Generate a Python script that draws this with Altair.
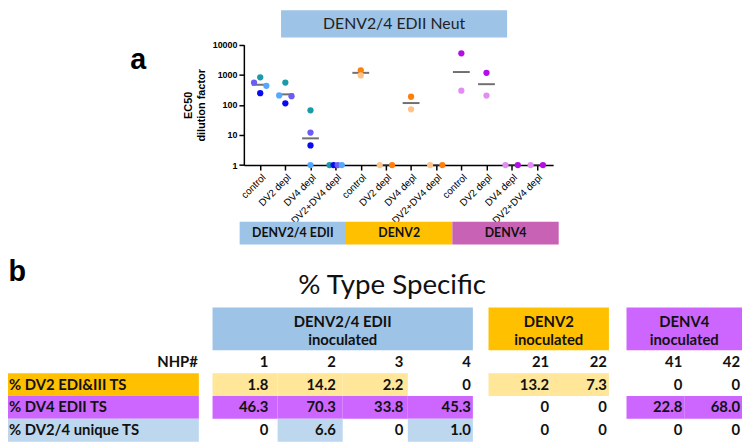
import altair as alt
import pandas as pd
import numpy as np

# ---------------- data: panel a (EC50 dilution factor) ----------------
treatments = ["control", "DV2 depl", "DV4 depl", "DV2+DV4 depl"]
groups = ["DENV2/4 EDII", "DENV2", "DENV4"]
group_nhps = [["1", "2", "3", "4"], ["21", "22"], ["41", "42"]]

ec50_nhp1 = [820, 550, 66, 1]
ec50_nhp2 = [244, 113, 4.5, 1]
ec50_nhp3 = [550, 195, 12, 1]
ec50_nhp4 = [430, 205, 1, 1]
ec50_nhp21 = [950, 1, 71, 1]
ec50_nhp22 = [1410, 1, 186, 1]
ec50_nhp41 = [296, 204, 1, 1]
ec50_nhp42 = [5130, 1160, 1, 1]

nhp_ids = ["1", "2", "3", "4", "21", "22", "41", "42"]
nhp_colors = ["#1A9BAA", "#0A0AF0", "#6B5CF5", "#55A8FF",
              "#FFC38A", "#FF7F0A", "#E48CF5", "#B40DE6"]
group_colors = ["#9DC3E6", "#FFC000", "#C862B5"]

# ---------------- data: panel b (% type specific) ----------------
row_labels = ["% DV2 EDI&III TS", "% DV4 EDII TS", "% DV2/4 unique TS"]
dv2_ts = ["1.8", "14.2", "2.2", "0", "13.2", "7.3", "0", "0"]
dv4_ts = ["46.3", "70.3", "33.8", "45.3", "0", "0", "22.8", "68.0"]
unique_ts = ["0", "6.6", "0", "1.0", "0", "0", "0", "0"]
dv2_hl = [1, 1, 1, 0, 1, 1, 0, 0]
dv4_hl = [1, 1, 1, 1, 0, 0, 1, 1]
unique_hl = [0, 1, 0, 1, 0, 0, 0, 0]
table_headers = ["DENV2/4 EDII\ninoculated", "DENV2\ninoculated", "DENV4\ninoculated"]
table_head_colors = ["#9DC3E6", "#FFC000", "#CC66FF"]
label_bg = ["#FFC000", "#CC66FF", "#BDD7EE"]
cell_bg = ["#FFE699", "#CC66FF", "#BDD7EE"]

# ---------------- layout helpers ----------------
W, H = 742, 436
SX, SY = W / 750, H / 444


def px(v):
    return v * SX


def py(v):
    return v * SY


def bx(domain, a, b):
    return alt.Scale(type="band", domain=domain, range=[px(a), px(b)],
                     paddingInner=0, paddingOuter=0)


def by(domain, a, b):
    return alt.Scale(type="band", domain=domain, range=[py(a), py(b)],
                     paddingInner=0, paddingOuter=0)


def band_rect(chart, xfield, xscale, yfield, yscale, **mark_kw):
    """rect that fills its x band and y band exactly"""
    return chart.mark_rect(**mark_kw).encode(
        x=alt.X(xfield, scale=xscale, axis=None, bandPosition=0),
        x2=alt.X2(xfield.split(":")[0], bandPosition=1),
        y=alt.Y(yfield, scale=yscale, axis=None, bandPosition=0),
        y2=alt.Y2(yfield.split(":")[0], bandPosition=1),
    )


LATO = "Lato"
ARIAL = "Liberation Sans"
TFS = 15

layers = []


def text_box(text, x0, x1, y0, y1, fill=None, **kw):
    d = pd.DataFrame({"t": [text]})
    out = []
    if fill:
        out.append(band_rect(alt.Chart(d), "t:N", bx([text], x0, x1),
                             "t:N", by([text], y0, y1), color=fill))
    out.append(alt.Chart(d).mark_text(**kw).encode(
        x=alt.X("t:N", scale=bx([text], x0, x1), axis=None),
        y=alt.Y("t:N", scale=by([text], y0, y1), axis=None),
        text="t:N"))
    return out


# ---------------- panel a ----------------
layers += text_box("DENV2/4 EDII Neut", 279, 510, 0, 28, fill="#9DC3E6",
                   font=LATO, fontSize=16, color="#222")
layers += text_box("a", 120, 146, 36, 66, font=ARIAL, fontSize=29,
                   fontWeight="bold", color="#000")

ec50_by_nhp = dict(zip(nhp_ids, [ec50_nhp1, ec50_nhp2, ec50_nhp3, ec50_nhp4,
                                 ec50_nhp21, ec50_nhp22, ec50_nhp41, ec50_nhp42]))
cats = [f"{g}|{t}" for g in groups for t in treatments]

# beeswarm-like spreading of overlapping points (computed from values)
ystep = (py(159.3) - py(35.3)) / 4
recs = []
for gi, g in enumerate(groups):
    for ti, t in enumerate(treatments):
        pts = [(n, ec50_by_nhp[n][ti]) for n in group_nhps[gi]]
        order = sorted(range(len(pts)), key=lambda i: (-pts[i][1], i))
        rows = []
        for i in order:
            lv = np.log10(pts[i][1])
            if rows and abs(rows[-1][0] - lv) * ystep < 4.5:
                rows[-1][1].append(i)
            else:
                rows.append([lv, [i]])
        for _, members in rows:
            k = len(members)
            offs = np.linspace(-6.3, 6.3, k) if k > 1 else [0.0]
            for i, o in zip(members, offs):
                recs.append(dict(cat=f"{g}|{t}", nhp=pts[i][0],
                                 ec50=pts[i][1], off=float(o) * SX))
pts_df = pd.DataFrame(recs)

xscale = alt.Scale(type="point", domain=cats, range=[px(241), px(557)], padding=0.65)
yscale = alt.Scale(type="log", domain=[1, 10000], range=[py(159.3), py(35.3)], nice=False)

geo = alt.Chart(pts_df).transform_calculate(
    lg="log(datum.ec50)/LN10"
).transform_aggregate(
    mlg="mean(lg)", groupby=["cat"]
).transform_calculate(
    gm="pow(10, datum.mlg)"
).mark_tick(color="#333333", thickness=2, size=17).encode(
    x=alt.X("cat:N", scale=xscale, axis=None),
    y=alt.Y("gm:Q", scale=yscale, axis=None),
)

points = alt.Chart(pts_df).mark_circle(size=40, opacity=1).encode(
    x=alt.X("cat:N", scale=xscale, axis=alt.Axis(
        orient="bottom", offset=-(H - py(159.3)), labelAngle=-45,
        labelFont=ARIAL, labelFontSize=10, labelColor="#000",
        labelExpr="split(datum.label, '|')[1]", labelOverlap=False,
        labelPadding=2, tickSize=5, tickColor="#000", tickWidth=1.5,
        domainColor="#000", domainWidth=1.5, title=None, grid=False)),
    xOffset=alt.XOffset("off:Q", scale=alt.Scale(domain=[-20, 20], range=[-20, 20])),
    y=alt.Y("ec50:Q", scale=yscale, axis=alt.Axis(
        orient="left", offset=-px(241), values=[1, 10, 100, 1000, 10000], format="d",
        labelFont=ARIAL, labelFontSize=9, labelFontWeight="bold", labelColor="#000",
        tickSize=5, tickColor="#000", tickWidth=1.5, domainColor="#000",
        domainWidth=1.5, grid=False, title=["EC50", "dilution factor"],
        titleFont=ARIAL, titleFontSize=11, titleFontWeight="bold",
        titleColor="#000", titlePadding=6)),
    color=alt.Color("nhp:N", scale=alt.Scale(domain=nhp_ids, range=nhp_colors), legend=None),
)
layers += [geo, points]

box_df = pd.DataFrame({"group": groups, "r": ["box"] * 3})
box_xs = bx(groups, 236.7, 562.7)
box_ys = by(["box"], 217.7, 241)
layers += [
    band_rect(alt.Chart(box_df), "group:N", box_xs, "r:N", box_ys).encode(
        color=alt.Color("group:N", scale=alt.Scale(domain=groups, range=group_colors),
                        legend=None)),
    alt.Chart(box_df).mark_text(font=LATO, fontSize=12.5, fontWeight="bold",
                                color="#111").encode(
        x=alt.X("group:N", scale=box_xs, axis=None),
        y=alt.Y("r:N", scale=box_ys, axis=None),
        text="group:N"),
]

# ---------------- panel b ----------------
layers += text_box("b", 0, 19, 256, 282, font=ARIAL, fontSize=29,
                   fontWeight="bold", color="#000")
layers += text_box("% Type Specific", 290, 495, 268, 300, font=LATO,
                   fontSize=28, color="#111")

rows_all = ["NHP#"] + row_labels
yrows = by(rows_all, 350, 444)

lab_df = pd.DataFrame({"row": row_labels, "c": ["lab"] * 3})
lab_x = bx(["lab"], 0, 195)
layers += [
    band_rect(alt.Chart(lab_df), "c:N", lab_x, "row:N", yrows).encode(
        color=alt.Color("row:N", scale=alt.Scale(domain=row_labels, range=label_bg),
                        legend=None)),
    alt.Chart(lab_df).mark_text(align="left", dx=1, font=LATO, fontSize=TFS,
                                fontWeight="bold", color="#111").encode(
        x=alt.X("c:N", scale=lab_x, axis=None, bandPosition=0),
        y=alt.Y("row:N", scale=yrows, axis=None),
        text="row:N"),
    alt.Chart(pd.DataFrame({"row": ["NHP#"], "c": ["lab"]})).mark_text(
        align="right", dx=-1, font=LATO, fontSize=TFS, fontWeight="bold", color="#111").encode(
        x=alt.X("c:N", scale=lab_x, axis=None, bandPosition=1),
        y=alt.Y("row:N", scale=yrows, axis=None),
        text="row:N"),
]

cells = []
for j, n in enumerate(nhp_ids):
    gi = 0 if j < 4 else (1 if j < 6 else 2)
    cells.append(dict(group=groups[gi], nhp=n, row="NHP#", txt=n, hl=0))
    for r, vals, hls in zip(row_labels, [dv2_ts, dv4_ts, unique_ts],
                            [dv2_hl, dv4_hl, unique_hl]):
        cells.append(dict(group=groups[gi], nhp=n, row=r, txt=vals[j], hl=hls[j]))
cell_df = pd.DataFrame(cells)

bg_ranges = [(209, 475), (491, 614), (632, 750)]
txt_ranges = [(199, 475), (496, 614), (632, 750)]
for gi, g in enumerate(groups):
    nh = group_nhps[gi]
    gdf = cell_df[cell_df.group == g]
    hdf = pd.DataFrame({"group": [g], "t": [table_headers[gi]]})
    hx = bx([g], *bg_ranges[gi])
    hy = by([g], 306, 350)
    layers += [
        band_rect(alt.Chart(hdf), "group:N", hx, "group:N", hy,
                  color=table_head_colors[gi]),
        alt.Chart(hdf).mark_text(font=LATO, fontSize=TFS, fontWeight="bold", color="#111",
                                 lineBreak="\n", lineHeight=18, dy=-7).encode(
            x=alt.X("group:N", scale=hx, axis=None),
            y=alt.Y("group:N", scale=hy, axis=None),
            text="t:N"),
        band_rect(alt.Chart(gdf[gdf.hl == 1]), "nhp:N", bx(nh, *bg_ranges[gi]),
                  "row:N", yrows).encode(
            color=alt.Color("row:N", scale=alt.Scale(domain=row_labels, range=cell_bg),
                            legend=None)),
        alt.Chart(gdf).mark_text(align="right", dx=-2, font=LATO, fontSize=TFS,
                                 fontWeight="bold", color="#111").encode(
            x=alt.X("nhp:N", scale=bx(nh, *txt_ranges[gi]), axis=None, bandPosition=1),
            y=alt.Y("row:N", scale=yrows, axis=None),
            text="txt:N"),
    ]

chart = alt.layer(*layers).resolve_scale(
    x="independent", y="independent", color="independent"
).properties(
    width=W, height=H, padding=0, autosize=alt.AutoSizeParams(type="none")
).configure_view(stroke=None)

chart.save("out.html", embed_options={"renderer": "svg", "actions": False})
